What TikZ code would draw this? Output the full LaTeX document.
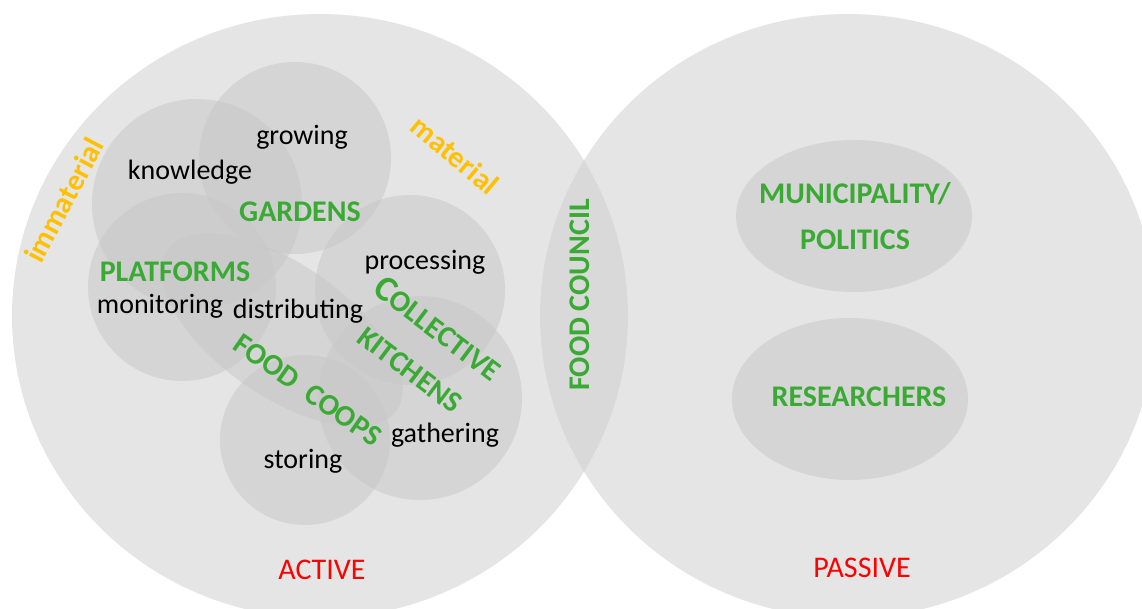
\documentclass[tikz,border=0pt]{standalone}
\usepackage{fontspec}
\setmainfont{Carlito}
\usetikzlibrary{positioning}
\definecolor{bigdisc}{RGB}{207,207,207}
\definecolor{smalldisc}{RGB}{200,200,200}
\definecolor{labelgreen}{RGB}{58,170,53}
\definecolor{labelgold}{RGB}{255,192,0}
\definecolor{labelred}{RGB}{255,0,0}
\tikzset{x=1pt, y=-1pt, inner sep=0pt}
\tikzstyle{big} = [fill=bigdisc, fill opacity=0.54]
\tikzstyle{small} = [fill=smalldisc, fill opacity=0.55]
\tikzstyle{task} = [font=\fontsize{28}{28}\selectfont, text=black]
\tikzstyle{group} = [font=\fontsize{30}{30}\selectfont\bfseries, text=labelgreen, align=center]
\tikzstyle{kind} = [font=\fontsize{30}{30}\selectfont\bfseries, text=labelgold]
\tikzstyle{role} = [font=\fontsize{30}{30}\selectfont, text=labelred]

\begin{document}
\begin{tikzpicture}
    \useasboundingbox (0,0) rectangle (1142,609);
    % the two large discs
    \fill [big] (320,316) circle [x radius=308pt, y radius=302pt];
    \fill [big] (848,316) circle [x radius=308pt, y radius=302pt];
    % initiatives on the active side
    \fill [small] (295,158) circle [radius=96pt];
    \fill [small] (197,204) circle [radius=105pt];
    \fill [small] (182,287) circle [radius=94pt];
    \fill [small] (410,290) circle [radius=95pt];
    \fill [small] (420,398) circle [radius=102pt];
    \fill [small] (305,440) circle [radius=85pt];
    \fill [small, rotate around={-35:(282,330)}] (282,330) circle [x radius=140pt, y radius=66pt];
    % passive side
    \fill [small] (854,216) circle [x radius=118pt, y radius=76pt];
    \fill [small] (850,399) circle [x radius=118pt, y radius=81pt];

    \node [kind, rotate=62] (immaterial) at (64,200) {immaterial};
    \node [kind, rotate=-40] (material) at (455,155) {material};

    \node [task] (growing) at (302,137) {growing};
    \node [task] (knowledge) at (190,172) {knowledge};
    \node [group] (gardens) at (300,212) {GARDENS};
    \node [group] (platforms) at (175,272) {PLATFORMS};
    \node [task] (monitoring) at (160,306) {monitoring};
    \node [task] (distributing) at (298,311) {distributing};
    \node [task] (processing) at (425,262) {processing};
    \node [group, rotate=-37] (collective) at (438,328) {{\fontsize{36}{36}\selectfont C}OLLECTIVE};
    \node [group, rotate=-37] (kitchens) at (410,370) {KITCHENS};
    \node [group, rotate=-35] (foodcoops) at (308,390) {FOOD\ \ COOPS};
    \node [task] (storing) at (303,461) {storing};
    \node [task] (gathering) at (445,435) {gathering};
    \node [group, rotate=90] (council) at (580,295) {FOOD COUNCIL};

    \node [group] (municipality) at (855,194) {MUNICIPALITY/};
    \node [group, below=24pt of municipality] (politics) {POLITICS};
    \node [group] (researchers) at (859,397) {RESEARCHERS};

    \node [role] (active) at (322,570) {ACTIVE};
    \node [role] (passive) at (862,568) {PASSIVE};
\end{tikzpicture}
\end{document}
